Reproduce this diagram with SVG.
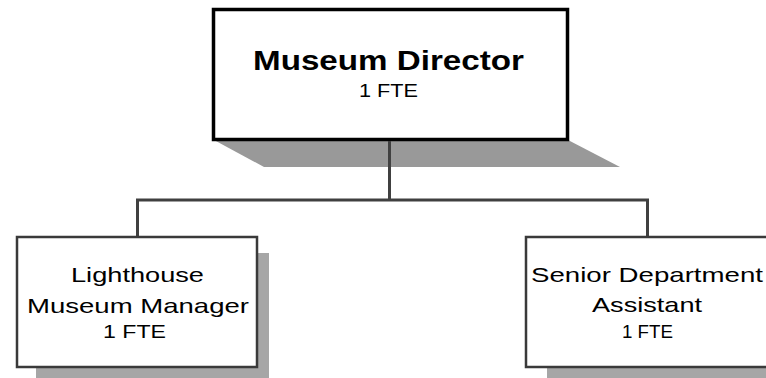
<svg xmlns="http://www.w3.org/2000/svg" width="766" height="378" viewBox="0 0 766 378">
<style>
text{font-family:"Liberation Sans",Arial,sans-serif;fill:#000;text-anchor:middle}
.title{font-size:28px;font-weight:bold}
.lbl{font-size:21px}
.fte{font-size:17.5px}
.box{fill:#fff;stroke:#3a3a3a;stroke-width:2.5}
.topbox{fill:#fff;stroke:#000;stroke-width:3.5}
.shadow{fill:#a6a6a6}
.conn{fill:none;stroke:#404040;stroke-width:3}
</style>
<rect width="766" height="378" fill="#fff"/>
<g id="connectors">
<path class="conn" d="M389.5,139 V200 M137.5,237 V200 H647.5 V237"/>
</g>
<g id="node-director">
<polygon points="214,140 568,140 620,167 264,167" fill="#999"/>
<rect class="topbox" x="213.5" y="9.5" width="354" height="130"/>
<path class="conn" d="M389.5,141 V168"/>
<text class="title" x="388.5" y="70" textLength="271" lengthAdjust="spacingAndGlyphs">Museum Director</text>
<text class="fte" x="388.5" y="97" textLength="59" lengthAdjust="spacingAndGlyphs">1 FTE</text>
</g>
<g id="node-lighthouse">
<rect class="shadow" x="36" y="253" width="233" height="130"/>
<rect class="box" x="17" y="237" width="240" height="130"/>
<text class="lbl" x="137.5" y="282" textLength="133" lengthAdjust="spacingAndGlyphs">Lighthouse</text>
<text class="lbl" x="138" y="313" textLength="222" lengthAdjust="spacingAndGlyphs">Museum Manager</text>
<text class="fte" x="134.5" y="338" textLength="63" lengthAdjust="spacingAndGlyphs">1 FTE</text>
</g>
<g id="node-senior">
<rect class="shadow" x="547" y="253" width="233" height="130"/>
<rect class="box" x="526" y="237" width="242" height="130"/>
<text class="lbl" x="647" y="282" textLength="232" lengthAdjust="spacingAndGlyphs">Senior Department</text>
<text class="lbl" x="647" y="312" textLength="110" lengthAdjust="spacingAndGlyphs">Assistant</text>
<text class="fte" x="647.5" y="338" textLength="51" lengthAdjust="spacingAndGlyphs">1 FTE</text>
</g>
</svg>
